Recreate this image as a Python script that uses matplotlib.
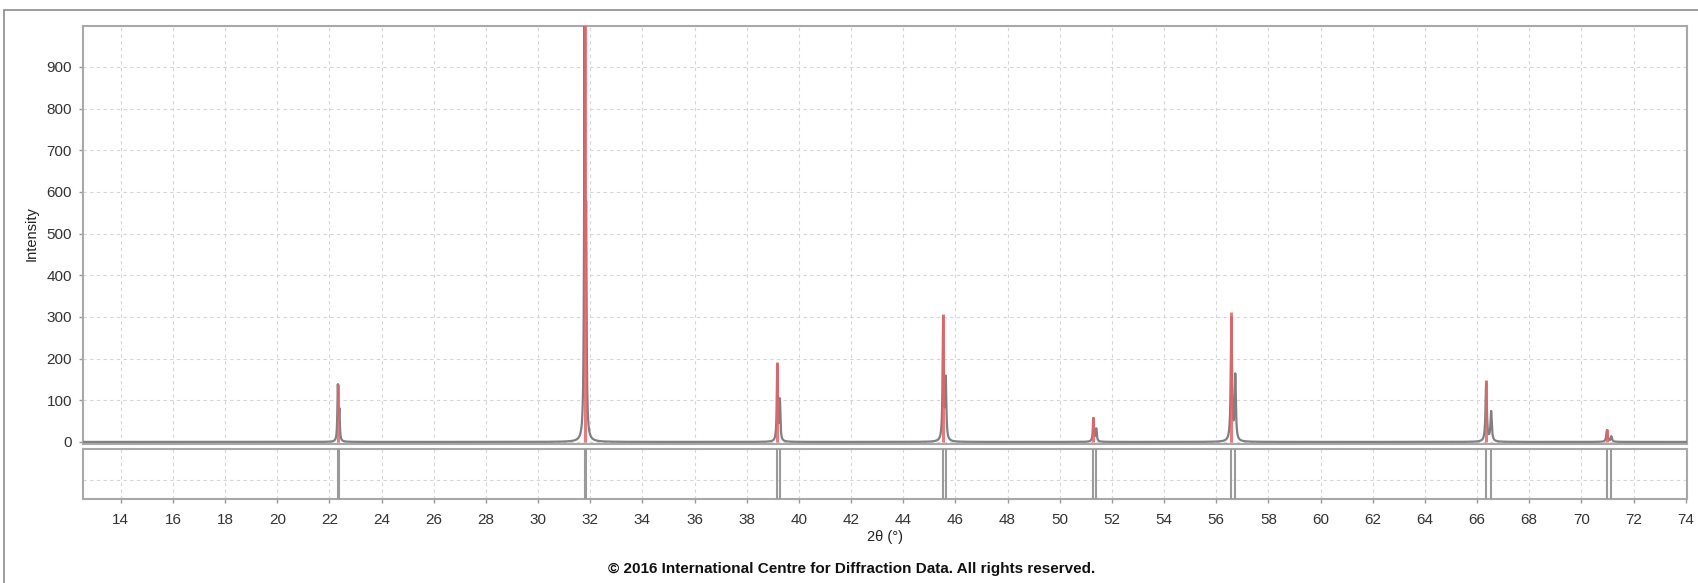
import numpy as np
import matplotlib.pyplot as plt
from matplotlib.patches import Rectangle

# reference lines (K-alpha1)
pos_a1 = [22.32, 31.78, 39.17, 45.53, 51.29, 56.58, 66.35, 70.98]
int_a1 = [138, 1000, 191, 307, 59, 311, 149, 30]
# simulated profile heights
prof_a1 = [132, 950, 182, 292, 56, 295, 142, 28]
pos_a2 = [22.38, 31.84, 39.27, 45.63, 51.40, 56.73, 66.54, 71.15]
prof_a2 = [68, 472, 96, 142, 30, 155, 71, 13]
fwhm = [0.04, 0.042, 0.045, 0.05, 0.05, 0.055, 0.06, 0.06]

plt.rcParams['font.family'] = ['Liberation Sans', 'DejaVu Sans']

fig = plt.figure(figsize=(16.98, 5.83), dpi=100)
W, H = 1698, 583

# outer frame
fig.patches.append(Rectangle((4 / W, -0.1), 1.2, 1 - 10 / H + 0.1, transform=fig.transFigure,
                             fill=False, edgecolor='#8c8c8c', lw=1.2))

ax = fig.add_axes([83 / W, 1 - 444 / H, 1604 / W, 418 / H])
ax2 = fig.add_axes([83 / W, 1 - 499 / H, 1604 / W, 50 / H])

xmin, xmax = 12.55, 74.05
x = np.linspace(xmin, xmax, 40000)
y = np.zeros_like(x)
for p, h, w in zip(pos_a1, prof_a1, fwhm):
    y += h / (1 + ((x - p) / (w / 2)) ** 2)
for p, h, w in zip(pos_a2, prof_a2, fwhm):
    y += h / (1 + ((x - p) / (w / 2)) ** 2)

ax.plot(x, y, color='#808080', lw=1.6, zorder=3)
ax.vlines(pos_a1, 0, int_a1, color='#e5646a', lw=2.2, zorder=4, alpha=0.85)

ax.set_xlim(xmin, xmax)
ax.set_ylim(-5, 998)
ax.set_yticks(range(0, 1000, 100))
ax.set_xticks(range(14, 75, 2))
ax.tick_params(axis='x', length=0, labelbottom=False)
ax.tick_params(axis='y', length=3, width=1, color='#999999', labelsize=11, labelcolor='#333333', pad=5)
ax.grid(True, color='#d6d6d6', ls=(0, (3, 3)), lw=0.8)

# stick panel
for p in pos_a1 + pos_a2:
    ax2.axvline(p, color='#9a9a9a', lw=1.5, zorder=3)
ax2.set_xlim(xmin, xmax)
ax2.set_ylim(0, 1)
ax2.set_yticks([0.38])
ax2.set_xticks(range(14, 75, 2))
ax2.tick_params(axis='y', length=0, labelleft=False)
ax2.tick_params(axis='x', length=3, width=1, color='#999999', labelsize=11, labelcolor='#333333', pad=7)
ax2.grid(True, color='#d6d6d6', ls=(0, (3, 3)), lw=0.8)

for a in (ax, ax2):
    for s in a.spines.values():
        s.set_color('#a8a8a8')
        s.set_linewidth(1.5)
    a.set_axisbelow(True)

fig.text(32 / W, 1 - 234 / H, 'Intensity', rotation=90, ha='center', va='center', fontsize=10.5, color='#222222')
fig.text(885 / W, 1 - 537 / H, '2θ (°)', ha='center', va='center', fontsize=10.5, color='#222222')
fig.text(852 / W, 1 - 569 / H, '© 2016 International Centre for Diffraction Data. All rights reserved.',
         ha='center', va='center', fontsize=11, fontweight='bold', color='#111111',
         family=['Liberation Sans Narrow', 'Liberation Sans', 'DejaVu Sans'])

fig.savefig('out.png', dpi=100)
